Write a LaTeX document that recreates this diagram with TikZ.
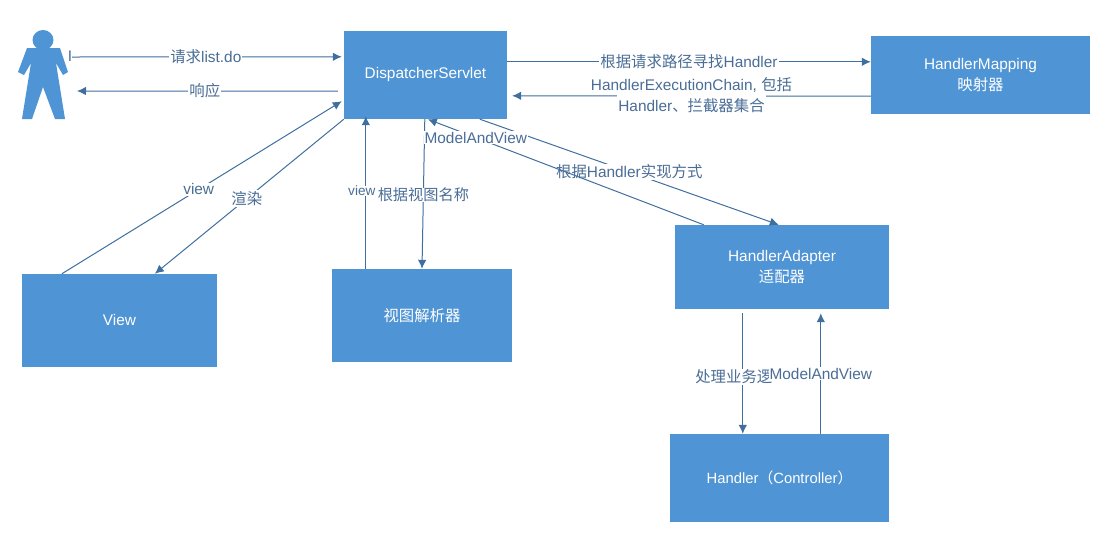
\documentclass[tikz,border=0pt]{standalone}
\usepackage{fontspec}
\setmainfont{Liberation Sans}
\newfontfamily\cjk{Noto Sans CJK SC}
\usetikzlibrary{arrows.meta}
\definecolor{boxblue}{HTML}{4F94D4}
\definecolor{linkblue}{HTML}{3F6F9F}
\definecolor{labelblue}{HTML}{4A6D96}
\tikzset{
  bluebox/.style={fill=boxblue,draw=none,inner sep=0pt,text=white,align=center,font=\fontsize{15.4}{21}\selectfont},
  link/.style={draw=linkblue,line width=1pt,-{Latex[length=9pt,width=8.5pt]}},
  lab/.style={fill=white,text=labelblue,inner sep=1pt,font=\fontsize{15.4}{18}\selectfont},
}
\begin{document}
\begin{tikzpicture}[x=1pt,y=-1pt]
\useasboundingbox (0,0) rectangle (1106,550);
% person
\fill[boxblue] (43,40) ellipse (10.5 and 10);
\fill[boxblue] (27,48) -- (60,48) -- (68,72) -- (63,75) -- (56,63) -- (65,119) -- (55,119) -- (43,87) -- (32,119) -- (22,119) -- (31,63) -- (24,75) -- (18,72) -- cycle;
\node[inner sep=0pt,minimum width=50pt,minimum height=90pt] (person) at (43,75) {};
% boxes
\node[bluebox,minimum width=163pt,minimum height=88pt] (ds) at (425.5,75) {\raisebox{0.5pt}{DispatcherServlet}};
\node[bluebox,minimum width=219pt,minimum height=78pt] (hm) at (980.5,75) {\raisebox{-1pt}{HandlerMapping}\\\raisebox{-1pt}{\cjk 映射器}};
\node[bluebox,minimum width=214pt,minimum height=84pt] (ha) at (782,267) {\raisebox{-2pt}{HandlerAdapter}\\\raisebox{-2pt}{\cjk 适配器}};
\node[bluebox,minimum width=219pt,minimum height=88pt,font=\fontsize{14.8}{21}\selectfont] (hc) at (779.5,478) {\raisebox{2pt}{Handler{\cjk （}Controller{\cjk ）}}};
\node[bluebox,minimum width=195pt,minimum height=93pt] (vw) at (119.5,320.5) {\raisebox{1pt}{View}};
\node[bluebox,minimum width=180pt,minimum height=93pt] (vr) at (422,315.5) {\cjk 视图解析器};
% connectors
\node[lab,fill=none,inner sep=0pt] (mark) at (70,56) {I};
\draw[link] ([xshift=29pt,yshift=18pt]person.center) -- node[lab,pos=.496] (l1) {{\cjk 请求}list.do} ([xshift=-2pt,yshift=-26pt]ds.north west);
\draw[link] ([xshift=-6pt,yshift=28pt]ds.south west) -- node[lab,pos=.51] (l2) {\cjk 响应} ([xshift=34pt,yshift=-16pt]person.center);
\draw[link] ([xshift=40pt]vw.north west) -- node[lab,pos=.489] (l3) {view} ([xshift=-2pt,yshift=18pt]ds.south west);
\draw[link] (ds.south west) -- node[lab,pos=.513] (l4) {\cjk 渲染} ([xshift=133pt]vw.north west);
\draw[link] ([xshift=81pt]ds.south west) -- node[lab,pos=.507,inner sep=0pt,font=\fontsize{15.2}{18}\selectfont] (l5) {\cjk 根据视图名称} (vr.north);
\draw[link] ([xshift=34pt]vr.north west) -- node[lab,pos=.51,inner sep=0pt,xshift=-4pt,font=\fontsize{13.6}{18}\selectfont] (l6) {view} ([xshift=22pt,yshift=3pt]ds.south west);
\draw[link] ([xshift=136pt]ds.south west) -- node[lab,pos=.5] (l7) {{\cjk 根据}Handler{\cjk 实现方式}} ([xshift=104pt]ha.north west);
\draw[link] ([xshift=29pt]ha.north west) -- node[lab,pos=.826] (l8) {ModelAndView} ([xshift=84pt]ds.south west);
\draw[link] ([yshift=-31pt]ds.north east) -- node[lab,pos=.5] (l9) {{\cjk 根据请求路径寻找}Handler} ([yshift=-26pt]hm.north west);
\draw[link] ([yshift=18pt]hm.south west) -- node[lab,pos=.5,yshift=-10pt,minimum height=22pt] (l10) {Handler{\cjk 、拦截器集合}} node[lab,pos=.5,yshift=11pt,fill=none] (l11) {HandlerExecutionChain, {\cjk 包括}} ([xshift=5pt,yshift=-65pt]ds.north east);
\draw[link] ([xshift=68pt,yshift=-4pt]ha.south west) -- node[lab,pos=.53,xshift=-9pt] (l12) {\cjk 处理业务逻} ([xshift=73pt]hc.north west);
\draw[link] ([xshift=151pt]hc.north west) -- node[lab,pos=.5] (l13) {ModelAndView} ([xshift=146pt,yshift=-4pt]ha.south west);
\end{tikzpicture}
\end{document}
